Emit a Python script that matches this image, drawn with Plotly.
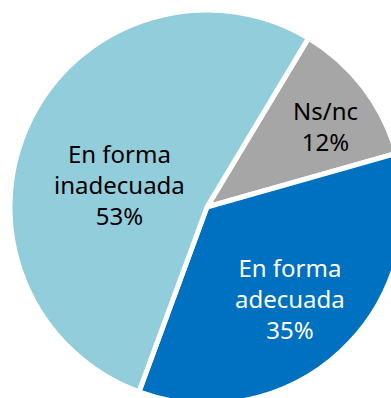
import plotly.graph_objects as go

# Survey answer shares (percent)
labels = ["Ns/nc", "En forma adecuada", "En forma inadecuada"]
display_labels = ["Ns/nc", "En forma<br>adecuada", "En forma<br>inadecuada"]
values = [12, 35, 53]
colors = ["#A6A6A6", "#0070C0", "#92CDDC"]
text_colors = ["#000000", "#FFFFFF", "#000000"]

# Label anchor points (paper fraction) for each slice
label_x = [0.802, 0.711, 0.279]
label_y = [0.706, 0.269, 0.556]

fig = go.Figure(
    go.Pie(
        labels=labels,
        values=values,
        textinfo="none",
        marker=dict(colors=colors, line=dict(color="#FFFFFF", width=5)),
        sort=False,
        direction="clockwise",
        rotation=31,
        showlegend=False,
        hoverinfo="label+percent",
    )
)

for lab, val, col, x, y in zip(display_labels, values, text_colors, label_x, label_y):
    fig.add_annotation(
        x=x,
        y=y,
        xref="paper",
        yref="paper",
        text=f"{lab}<br>{val}%",
        showarrow=False,
        xanchor="center",
        yanchor="middle",
        align="center",
        font=dict(color=col, size=24, family="Noto Sans"),
    )

fig.update_layout(
    width=404,
    height=404,
    margin=dict(l=10, t=10, r=0, b=0),
    paper_bgcolor="#FFFFFF",
    plot_bgcolor="#FFFFFF",
)

fig.write_html(
    "out.html",
    post_script="document.body.style.margin='0';document.body.style.overflow='hidden';",
)
